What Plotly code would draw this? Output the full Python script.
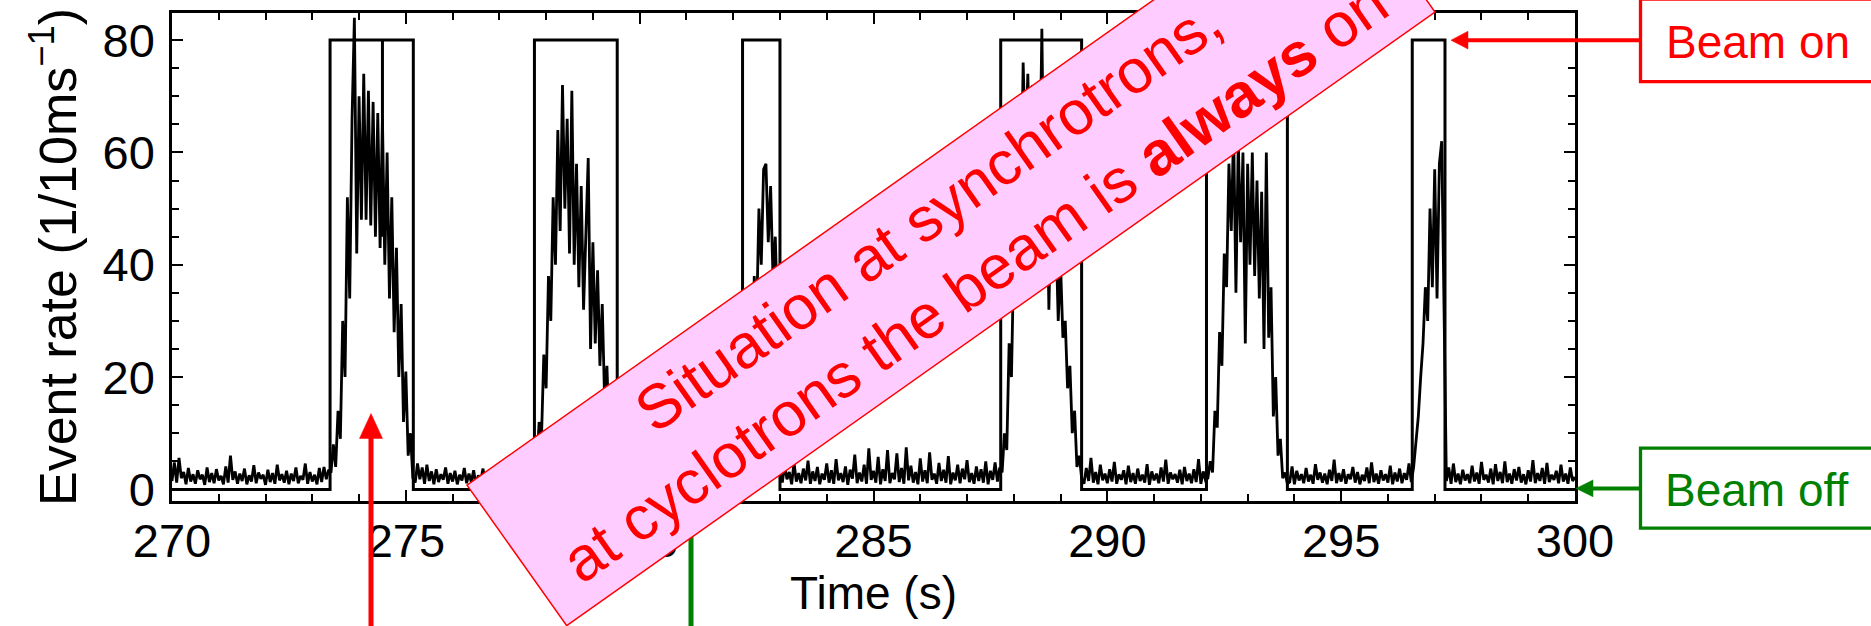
import numpy as np
import plotly.graph_objects as go

# ---------------------------------------------------------------------------
# Event rate in 10 ms bins, sampled every 0.05 s from t = 270 s
# ---------------------------------------------------------------------------
T0 = 270.0
BIN = 0.05

# beam-off background, 270.00 - 273.35 s
base_a = [1.5, 4.8, 1.2, 5.6, 2.0, 3.1, 0.9, 3.8, 1.4, 2.7, 1.0, 3.4, 1.8, 2.6, 0.8, 3.9, 1.3, 2.9, 1.1, 3.6,
          1.6, 2.4, 0.9, 4.1, 1.2, 6.0, 1.7, 3.2, 1.0, 2.8, 1.5, 3.7, 0.9, 2.5, 1.4, 4.3, 1.1, 3.0, 1.9, 2.6,
          0.8, 3.5, 1.3, 2.9, 1.0, 4.4, 1.6, 2.7, 1.2, 3.3, 0.9, 2.8, 1.5, 3.9, 1.1, 2.4, 1.7, 4.6, 1.0, 3.1,
          1.4, 2.6, 0.9, 3.8, 1.3, 4.0, 1.8, 3.5]
# spill 1, 273.40 - 275.15 s
peak_1 = [3, 8, 4, 14, 9, 30, 20, 52, 34, 66, 84, 42, 70, 48, 74, 48, 71, 47, 69, 45,
          67, 43, 66, 40, 60, 34, 52, 28, 43, 20, 33, 12, 21, 6, 10, 2]
# 275.20 - 277.75 s
base_b = [1.2, 4.6, 1.8, 3.9, 1.0, 4.4, 1.5, 3.2, 0.9, 3.6, 1.3, 2.7, 1.7, 3.9, 1.0, 2.9, 1.4, 3.3, 0.9, 2.6,
          1.6, 3.8, 1.1, 2.8, 1.3, 3.4, 0.8, 2.5, 1.5, 3.7, 1.0, 2.9, 1.8, 3.2, 1.1, 2.7, 1.4, 4.1, 0.9, 3.0,
          1.6, 2.6, 1.2, 3.5, 1.0, 4.5, 1.5, 2.8, 1.9, 3.6, 1.3, 4.9]
# spill 2, 277.80 - 279.50 s
peak_2 = [4, 12, 9, 24, 18, 38, 30, 52, 40, 64, 46, 72, 50, 66, 42, 71, 40, 58, 36, 54,
          32, 48, 59, 25, 44, 26, 39, 22, 33, 16, 22, 9, 12, 3, 5]
# 279.55 - 282.15 s
base_c = [1.4, 3.9, 1.0, 5.2, 1.6, 2.8, 1.2, 3.5, 0.9, 4.0, 1.5, 2.6, 1.1, 3.3, 1.7, 2.9, 0.8, 3.7, 1.3, 2.5,
          1.0, 3.1, 1.6, 4.2, 1.2, 2.7, 0.9, 3.4, 1.5, 2.8, 1.1, 3.9, 1.4, 2.6, 1.0, 3.6, 1.8, 2.9, 1.2, 4.4,
          0.9, 3.0, 1.5, 2.7, 1.1, 3.8, 1.3, 2.5, 1.7, 3.3, 1.0, 4.1, 1.4]
# spill 3, 282.20 - 283.00 s
peak_3 = [3, 10, 7, 20, 16, 38, 30, 50, 40, 57, 58, 44, 54, 38, 45, 30, 6]
# 283.05 - 287.70 s
base_d = [1.2, 4.3, 1.8, 3.1, 0.9, 4.8, 1.4, 2.9, 1.1, 3.7, 1.6, 5.1, 1.0, 3.2, 1.5, 4.0, 0.9, 2.8, 1.7, 4.6,
          1.2, 3.4, 1.0, 5.4, 1.6, 2.9, 1.3, 4.1, 0.8, 3.5, 1.9, 6.2, 1.1, 3.0, 1.4, 4.4, 1.0, 7.3, 1.7, 3.3,
          1.2, 5.8, 0.9, 3.6, 1.5, 7.0, 1.1, 2.9, 1.8, 6.4, 1.3, 3.8, 1.0, 7.5, 1.6, 4.2, 1.2, 3.1, 0.9, 5.5,
          1.4, 3.4, 1.1, 6.6, 1.7, 2.8, 1.0, 4.7, 1.5, 3.5, 1.2, 5.9, 0.9, 3.0, 1.6, 4.4, 1.1, 3.7, 1.8, 5.2,
          1.3, 2.9, 1.0, 4.1, 1.5, 3.6, 1.2, 5.0, 0.9, 3.3, 1.7, 4.8, 1.4, 3.9]
# spill 4, 287.75 - 289.45 s
peak_4 = [3, 10, 7, 26, 20, 42, 34, 58, 48, 76, 60, 74, 56, 72, 54, 70, 52, 82, 48, 60,
          32, 52, 38, 46, 30, 40, 27, 30, 18, 22, 10, 14, 4, 6, 2]
# 289.50 - 292.10 s
base_e = [1.0, 3.8, 1.5, 5.6, 1.2, 3.1, 0.9, 4.4, 1.6, 2.8, 1.1, 3.6, 1.4, 4.9, 1.0, 2.7, 1.7, 3.4, 0.9, 4.2,
          1.3, 2.9, 1.0, 3.7, 1.5, 2.6, 1.2, 4.5, 0.8, 3.2, 1.6, 2.8, 1.1, 3.9, 1.4, 5.3, 1.0, 3.0, 1.8, 2.7,
          1.2, 3.5, 0.9, 4.0, 1.5, 2.8, 1.1, 3.6, 1.3, 5.4, 1.0, 3.2, 1.6]
# spill 5, 292.15 - 293.85 s
peak_5 = [2, 5, 3, 14, 11, 28, 22, 42, 36, 58, 46, 64, 35, 62, 44, 60, 26, 58, 40, 60,
          38, 55, 34, 53, 25, 60, 27, 36, 13, 20, 6, 9, 2, 3, 1]
# 293.90 - 296.50 s
base_f = [1.3, 4.1, 0.9, 3.3, 1.6, 2.7, 1.1, 3.8, 1.4, 2.6, 1.0, 4.5, 1.7, 3.0, 1.2, 2.8, 0.9, 3.5, 1.5, 5.3,
          1.1, 2.9, 1.4, 3.6, 1.0, 2.7, 1.8, 4.0, 1.2, 3.1, 0.9, 2.6, 1.5, 3.9, 1.1, 4.8, 1.3, 2.8, 1.0, 3.4,
          1.6, 2.7, 1.2, 4.2, 0.9, 3.0, 1.4, 3.7, 1.1, 2.9, 1.7, 4.6, 1.3]
# spill 6, 296.55 - 297.20 s
peak_6 = [4, 8, 13, 20, 26, 36, 30, 50, 36, 57, 34, 58, 62, 32]
# 297.25 - 300.00 s
base_g = [1.5, 3.9, 1.0, 4.6, 1.3, 2.8, 0.9, 3.5, 1.6, 2.7, 1.1, 4.2, 1.4, 3.0, 1.0, 4.9, 1.7, 2.6, 1.2, 3.7,
          0.9, 4.5, 1.5, 3.1, 1.1, 5.0, 1.3, 2.8, 1.0, 3.6, 1.6, 4.0, 1.2, 2.7, 0.9, 3.4, 1.4, 5.2, 1.1, 2.9,
          1.5, 3.8, 1.0, 4.7, 1.3, 2.6, 1.7, 3.3, 1.1, 4.4, 1.4, 2.8, 1.0, 3.9, 1.5, 2.2]

rate = (base_a + peak_1 + base_b + peak_2 + base_c + peak_3 + base_d
        + peak_4 + base_e + peak_5 + base_f + peak_6 + base_g)
time = np.round(T0 + BIN * np.arange(len(rate)), 2)

# Beam gate signal (beam on = 80, beam off = 0)
BEAM_OFF = 0
BEAM_ON = 80
beam_on_start = [273.38, 277.75, 282.20, 287.72, 292.12, 296.52]
beam_on_stop = [275.16, 279.52, 283.00, 289.45, 293.85, 297.22]
beam_dip_time = 274.50
beam_dip_level = 45

x_ticks = [270, 275, 280, 285, 290, 295, 300]
y_ticks = [0, 20, 40, 60, 80]

gate_x, gate_y = [270.0], [BEAM_OFF]
for s, e in zip(beam_on_start, beam_on_stop):
    gate_x += [s, s]
    gate_y += [BEAM_OFF, BEAM_ON]
    if s < beam_dip_time < e:
        gate_x += [beam_dip_time, beam_dip_time, beam_dip_time]
        gate_y += [BEAM_ON, beam_dip_level, BEAM_ON]
    gate_x += [e, e]
    gate_y += [BEAM_ON, BEAM_OFF]
gate_x.append(300.0)
gate_y.append(BEAM_OFF)

# ---------------------------------------------------------------------------
# Page geometry (pixels) and conversion to paper coordinates
# ---------------------------------------------------------------------------
W, H = 1871, 626
PL, PR, PT, PB = 172, 1575, 10, 501


def px(x):
    return (x - PL) / (PR - PL)


def py(y):
    return (PB - y) / (PB - PT)


FONT = "Liberation Sans, Arial, Helvetica, sans-serif"
RED = "#ff0000"
GREEN = "#008000"
PINK = "#ffccff"

shapes = []


def arrow(x0, y0, x1, y1, color, width, head_len, head_half):
    """Straight arrow from (x0, y0) to the tip (x1, y1), in pixels."""
    d = np.hypot(x1 - x0, y1 - y0)
    ux, uy = (x1 - x0) / d, (y1 - y0) / d
    bx, by = x1 - head_len * ux, y1 - head_len * uy
    shapes.append(dict(type="line", xref="paper", yref="paper",
                       x0=px(x0), y0=py(y0), x1=px(bx + 2 * ux), y1=py(by + 2 * uy),
                       line=dict(color=color, width=width), layer="above"))
    pts = [(x1, y1), (bx - head_half * uy, by + head_half * ux), (bx + head_half * uy, by - head_half * ux)]
    path = "M " + " L ".join(f"{px(a):.5f},{py(b):.5f}" for a, b in pts) + " Z"
    shapes.append(dict(type="path", xref="paper", yref="paper", path=path,
                       fillcolor=color, line=dict(color=color, width=0.5), layer="above"))


def rect(x0, y0, x1, y1, color):
    shapes.append(dict(type="rect", xref="paper", yref="paper",
                       x0=px(x0), y0=py(y0), x1=px(x1), y1=py(y1),
                       line=dict(color=color, width=3.3), fillcolor="white", layer="above"))


# label boxes on the right
rect(1640.5, -4, 1900, 79, RED)
rect(1640.5, 447.7, 1900, 528.3, GREEN)
arrow(1640.5, 37.3, 1451, 37.3, RED, 4, 17, 9)
arrow(1640.5, 488.3, 1576, 488.3, GREEN, 4, 17, 8.5)

# arrows below the axis
arrow(371, 640, 371, 413, RED, 5, 25, 11.5)
shapes.append(dict(type="line", xref="paper", yref="paper",
                   x0=px(691), y0=py(640), x1=px(691), y1=py(495),
                   line=dict(color=GREEN, width=5), layer="above"))

# diagonal banner
banner = [(467, 485), (566.7, 626.4), (1435, 9), (1335.3, -132.4)]
shapes.append(dict(type="path", xref="paper", yref="paper",
                   path="M " + " L ".join(f"{px(a):.5f},{py(b):.5f}" for a, b in banner) + " Z",
                   fillcolor=PINK, line=dict(color=RED, width=1.5), layer="above"))

annotations = [
    dict(text="Beam on", x=px(1664), y=py(39), xref="paper", yref="paper",
         xanchor="left", yanchor="middle", showarrow=False,
         font=dict(family=FONT, size=46, color=RED)),
    dict(text="Beam off", x=px(1663), y=py(490), xref="paper", yref="paper",
         xanchor="left", yanchor="middle", showarrow=False,
         font=dict(family=FONT, size=46, color=GREEN)),
    dict(text="Situation at synchrotrons,<br>at cyclotrons the beam is <b>always</b> on",
         x=px(951), y=py(247), xref="paper", yref="paper",
         xanchor="center", yanchor="middle", showarrow=False, textangle=-35.2,
         font=dict(family=FONT, size=62, color=RED)),
]

fig = go.Figure()
fig.add_trace(go.Scatter(x=gate_x, y=gate_y, mode="lines",
                         line=dict(color="black", width=3), hoverinfo="skip"))
fig.add_trace(go.Scatter(x=time, y=rate, mode="lines",
                         line=dict(color="black", width=2.8)))

axis_common = dict(showgrid=False, zeroline=False, showline=True, linecolor="black",
                   linewidth=2.5, mirror="ticks", ticks="inside", tickcolor="black",
                   tickwidth=2, ticklen=11,
                   tickfont=dict(family=FONT, size=47, color="black"))

fig.update_layout(
    width=W, height=H,
    margin=dict(l=PL, r=W - PR, t=PT, b=H - PB, pad=0),
    paper_bgcolor="white", plot_bgcolor="white",
    showlegend=False,
    xaxis=dict(range=[270, 300], tickvals=x_ticks, ticklabelstandoff=-3,
               minor=dict(dtick=1, ticks="inside", ticklen=7, tickwidth=2, tickcolor="black"),
               title=dict(text="Time (s)", standoff=4,
                          font=dict(family=FONT, size=46, color="black")),
               **axis_common),
    yaxis=dict(range=[-2.07, 84.83], tickvals=y_ticks, ticklabelstandoff=5,
               minor=dict(dtick=5, ticks="inside", ticklen=7, tickwidth=2, tickcolor="black"),
               title=dict(text="Event rate (1/10ms<sup>−1</sup>)", standoff=10,
                          font=dict(family=FONT, size=52, color="black")),
               **axis_common),
    shapes=shapes,
    annotations=annotations,
)

fig.write_html("out.html")
